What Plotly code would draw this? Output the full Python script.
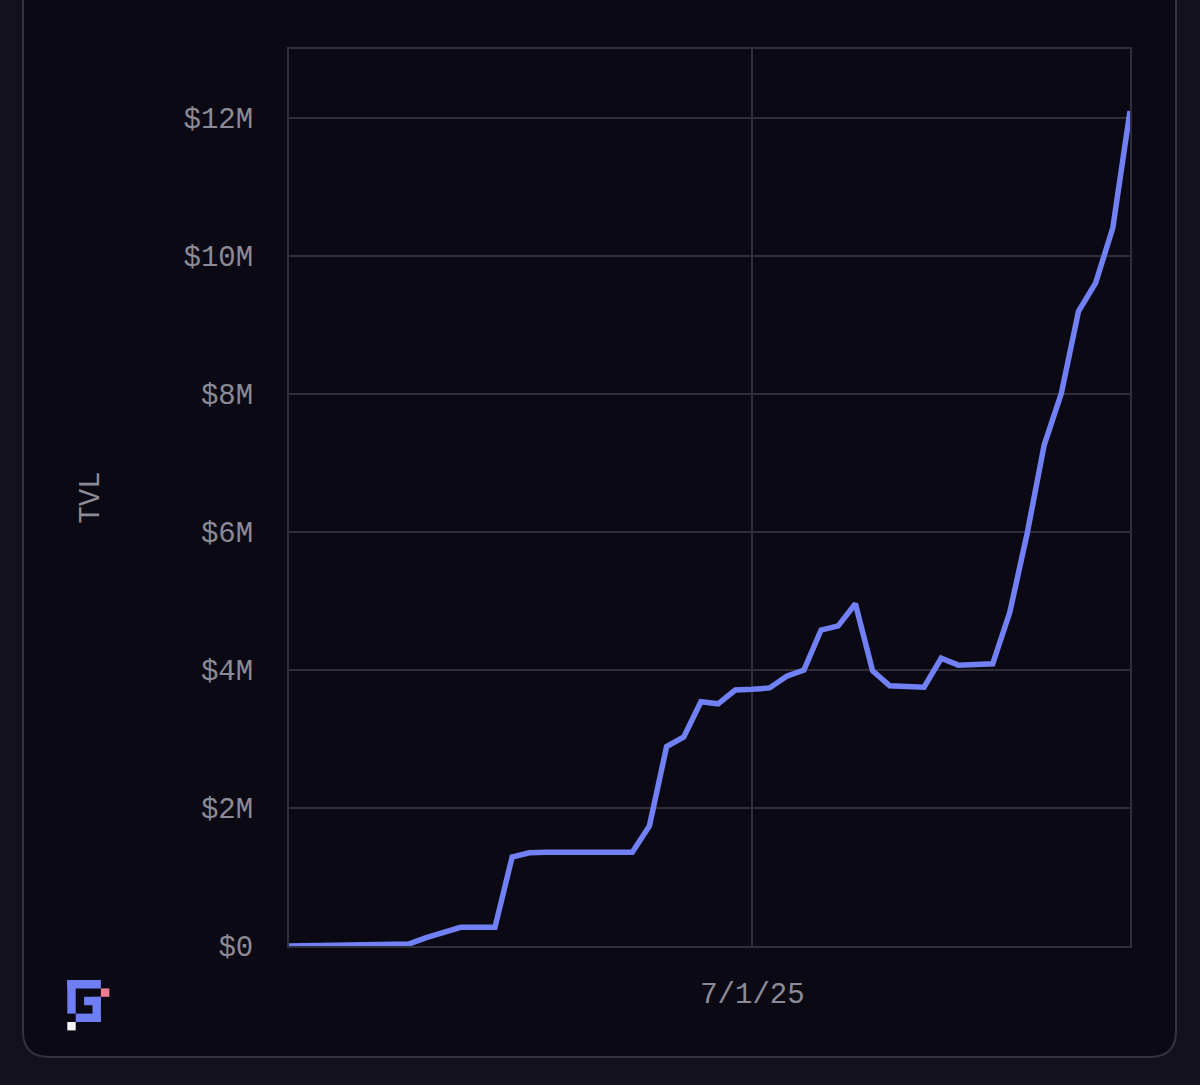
import datetime as dt
import plotly.graph_objects as go

# ---- data ----
start_date = "2025-06-04"
tvl_millions = [
    0.00, 0.005, 0.02, 0.03, 0.03, 0.03, 0.03, 0.03, 0.12, 0.20,
    0.27, 0.27, 0.27, 1.29, 1.35, 1.36, 1.36, 1.36, 1.36, 1.36,
    1.36, 1.74, 2.89, 3.03, 3.54, 3.51, 3.71, 3.72, 3.74, 3.91,
    4.00, 4.58, 4.64, 4.96, 3.99, 3.77, 3.75, 3.75, 4.17, 4.07,
    4.08, 4.09, 4.84, 5.97, 7.26, 8.01, 9.20, 9.61, 10.41, 12.10,
]
y_tick_values = [0, 2, 4, 6, 8, 10, 12]
y_tick_labels = ["$0", "$2M", "$4M", "$6M", "$8M", "$10M", "$12M"]
x_tick_values = ["2025-07-01"]
x_tick_labels = ["7/1/25"]
y_axis_title = "TVL"

d0 = dt.date.fromisoformat(start_date)
dates = [(d0 + dt.timedelta(days=i)).isoformat() for i in range(len(tvl_millions))]
tvl = [v * 1e6 for v in tvl_millions]

# ---- style ----
W, H = 1200, 1085
L, R, T, B = 289, 70, 49, 139
PW, PH = W - L - R, H - T - B
OUTER = "#13121c"
CARD = "#0b0a14"
GRID = "#2f2e39"
TXT = "#8b8a96"
LINE = "#7181f5"
FONT = "Liberation Mono, DejaVu Sans Mono, monospace"


def px(x):
    return (x - L) / PW


def py(y):
    return (H - B - y) / PH


fig = go.Figure()
fig.add_trace(go.Scatter(
    x=dates, y=tvl, mode="lines",
    line=dict(color=LINE, width=5.5),
    hoverinfo="skip",
))

shapes = []
# card with rounded bottom corners
x0, x1, y0, y1, r = 23, 1176, -40, 1057, 26
path = (f"M {px(x0)},{py(y0)} L {px(x0)},{py(y1 - r)} "
        f"Q {px(x0)},{py(y1)} {px(x0 + r)},{py(y1)} "
        f"L {px(x1 - r)},{py(y1)} "
        f"Q {px(x1)},{py(y1)} {px(x1)},{py(y1 - r)} "
        f"L {px(x1)},{py(y0)} Z")
shapes.append(dict(type="path", xref="paper", yref="paper", path=path,
                   fillcolor=CARD, line=dict(color="#34333e", width=2),
                   layer="below"))

# pixel logo (cell-grid rectangles: c0, r0, c1, r1 exclusive ends)
cell = 8.4
lx, ly = 67.3, 980.0
logo_blocks = [
    (0, 0, 4, 1, "#6f7ef4"),   # top bar
    (0, 0, 1, 4, "#6f7ef4"),   # left column
    (2, 2, 4, 3, "#6f7ef4"),   # inner arm
    (3, 2, 4, 5, "#6f7ef4"),   # right column
    (1, 4, 4, 5, "#6f7ef4"),   # bottom bar
    (4, 1, 5, 2, "#f07a92"),   # pink pixel
    (0, 5, 1, 6, "#f4f4f8"),   # white pixel
]
for c0, r0, c1, r1, col in logo_blocks:
    shapes.append(dict(type="rect", xref="paper", yref="paper",
                       x0=px(lx + c0 * cell), x1=px(lx + c1 * cell),
                       y0=py(ly + r1 * cell), y1=py(ly + r0 * cell),
                       fillcolor=col, line=dict(width=0), layer="above"))

fig.update_layout(
    width=W, height=H,
    margin=dict(l=L, r=R, t=T, b=B, pad=0),
    paper_bgcolor=OUTER,
    plot_bgcolor=CARD,
    showlegend=False,
    font=dict(family=FONT, size=29, color=TXT),
    shapes=shapes,
)
fig.update_xaxes(
    range=[dates[0], dates[-1]],
    tickvals=x_tick_values, ticktext=x_tick_labels,
    showgrid=True, gridcolor=GRID, gridwidth=2,
    showline=True, linecolor=GRID, linewidth=2, mirror=True,
    ticks="", ticklabelstandoff=20,
    tickfont=dict(family=FONT, size=29, color=TXT),
    zeroline=False,
)
fig.update_yaxes(
    range=[0, 13e6],
    tickvals=[v * 1e6 for v in y_tick_values], ticktext=y_tick_labels,
    showgrid=True, gridcolor=GRID, gridwidth=2,
    showline=True, linecolor=GRID, linewidth=2, mirror=True,
    ticks="", ticklabelstandoff=28,
    tickfont=dict(family=FONT, size=29, color=TXT),
    zeroline=False,
    title=dict(text=y_axis_title, standoff=75,
               font=dict(family=FONT, size=29, color=TXT)),
)

fig.write_html(
    "out.html",
    config={"displayModeBar": False},
    post_script="document.body.style.margin='0';"
                "document.body.style.background='#13121c';"
                "document.body.style.overflow='hidden';",
)
